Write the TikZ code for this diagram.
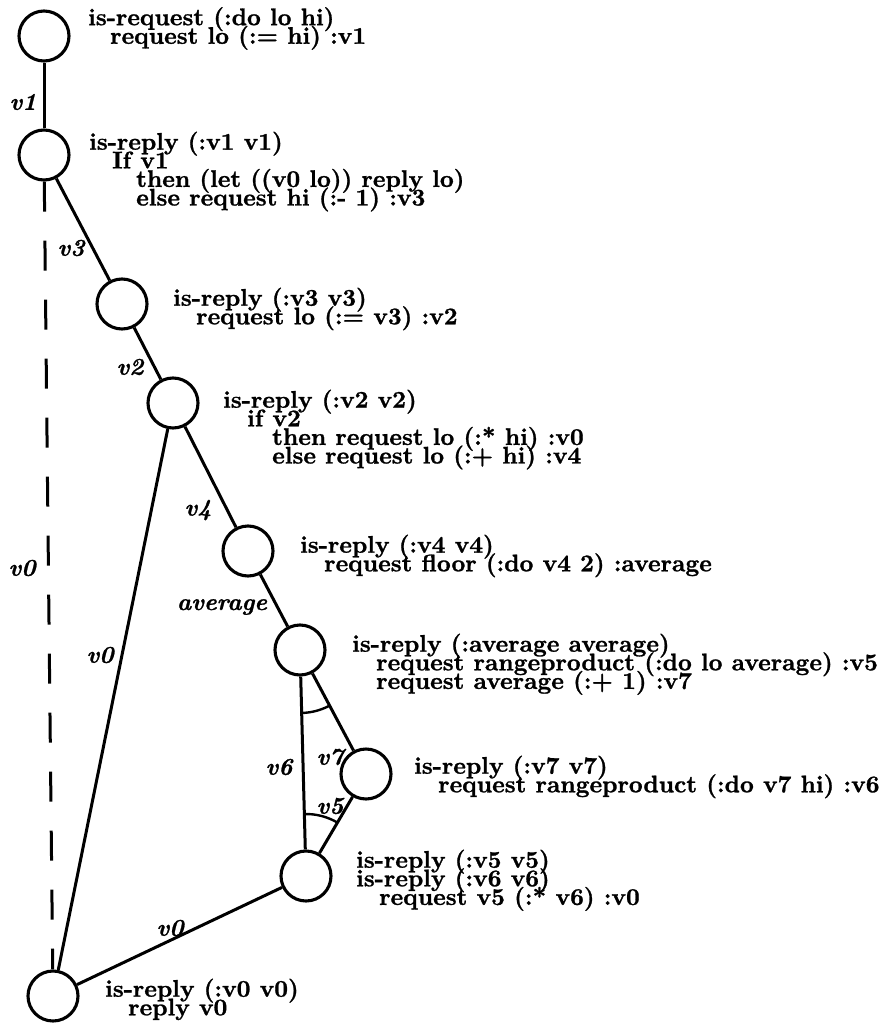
\documentclass[tikz,border=0pt]{standalone}
\usepackage{fontspec}
\usetikzlibrary{calc}
\newfontfamily\codefont[FakeBold=1.1]{lmroman10-bold.otf}
\newfontfamily\labfont[FakeBold=1.1]{lmroman10-bolditalic.otf}
\begin{document}
\begin{tikzpicture}[x=1pt,y=-1pt,
  state/.style={circle,draw,line width=3.1pt,minimum size=50pt,inner sep=0pt},
  edge/.style={line width=3pt},
  code/.style={anchor=north west,inner sep=0pt,align=left,
    font={\fontsize{24}{18.6}\codefont\lineskiplimit=-60pt\relax}},
  lab/.style={inner sep=0pt,font={\fontsize{24}{24}\labfont}},
  ang/.style={line width=2.4pt}]
\useasboundingbox (0,0) rectangle (888,1027);

% states
\node[state] (n1) at (44,36) {};
\node[state] (n2) at (44,155) {};
\node[state] (n3) at (122,304) {};
\node[state] (n4) at (173,403) {};
\node[state] (n5) at (248,551) {};
\node[state] (n6) at (300,650) {};
\node[state] (n7) at (366,774) {};
\node[state] (n8) at (306,876) {};
\node[state] (n9) at (53,996) {};

% connectors
\draw[edge] (n1) -- (n2);
\draw[edge] (n2) -- (n3);
\draw[edge] (n3) -- (n4);
\draw[edge] (n4) -- (n5);
\draw[edge] (n5) -- (n6);
\draw[edge] (n6) -- (n7);
\draw[edge] (n6) -- (n8);
\draw[edge] (n7) -- (n8);
\draw[edge] (n4) -- (n9);
\draw[edge] (n8) -- (n9);
\draw[edge,dash pattern=on 30pt off 29pt] (n2) -- (n9);

% angle arcs
\draw[ang] ($(n6.center)+(-88.7:63pt)$) arc[start angle=-88.7,end angle=-62,radius=63pt];
\draw[ang] ($(n8.center)+(58.9:62pt)$) arc[start angle=58.9,end angle=91.3,radius=62pt];

% connector labels
\node[lab] (l1) at (23,102) {v1};
\node[lab] (l3) at (71,248) {v3};
\node[lab] (l2) at (130,367) {v2};
\node[lab] (l4) at (198,510) {v4};
\node[lab] (lav) at (222,607) {average};
\node[lab] (l0a) at (22,568) {v0};
\node[lab] (l0b) at (100,655) {v0};
\node[lab] (l6) at (279,767) {v6};
\node[lab] (l7) at (330,757) {v7};
\node[lab] (l5) at (330,806) {v5};
\node[lab] (l0c) at (170,928) {v0};

% code texts (top = first baseline - 18)
\node[code] (t1) at (88,7) {is-request (:do lo hi)\\\hspace*{22pt}request lo (:= hi) :v1};
\node[code] (t2) at (89,131.5) {is-reply (:v1 v1)\\\hspace*{23pt}If v1\\\hspace*{47pt}then (let ((v0 lo)) reply lo)\\\hspace*{47pt}else request hi (:- 1) :v3};
\node[code] (t3) at (173,287.5) {is-reply (:v3 v3)\\\hspace*{23pt}request lo (:= v3) :v2};
\node[code] (t4) at (223,389.5) {is-reply (:v2 v2)\\\hspace*{24pt}if v2\\\hspace*{49pt}then request lo (:* hi) :v0\\\hspace*{49pt}else request lo (:+ hi) :v4};
\node[code] (t5) at (300,534.5) {is-reply (:v4 v4)\\\hspace*{24pt}request floor (:do v4 2) :average};
\node[code] (t6) at (352,633.5) {is-reply (:average average)\\\hspace*{24pt}request rangeproduct (:do lo average) :v5\\\hspace*{24pt}request average (:+ 1) :v7};
\node[code] (t7) at (414,755.5) {is-reply (:v7 v7)\\\hspace*{24pt}request rangeproduct (:do v7 hi) :v6};
\node[code] (t8) at (356,849.5) {is-reply (:v5 v5)\\is-reply (:v6 v6)\\\hspace*{23pt}request v5 (:* v6) :v0};
\node[code] (t9) at (105,978.5) {is-reply (:v0 v0)\\\hspace*{23pt}reply v0};
\end{tikzpicture}
\end{document}
